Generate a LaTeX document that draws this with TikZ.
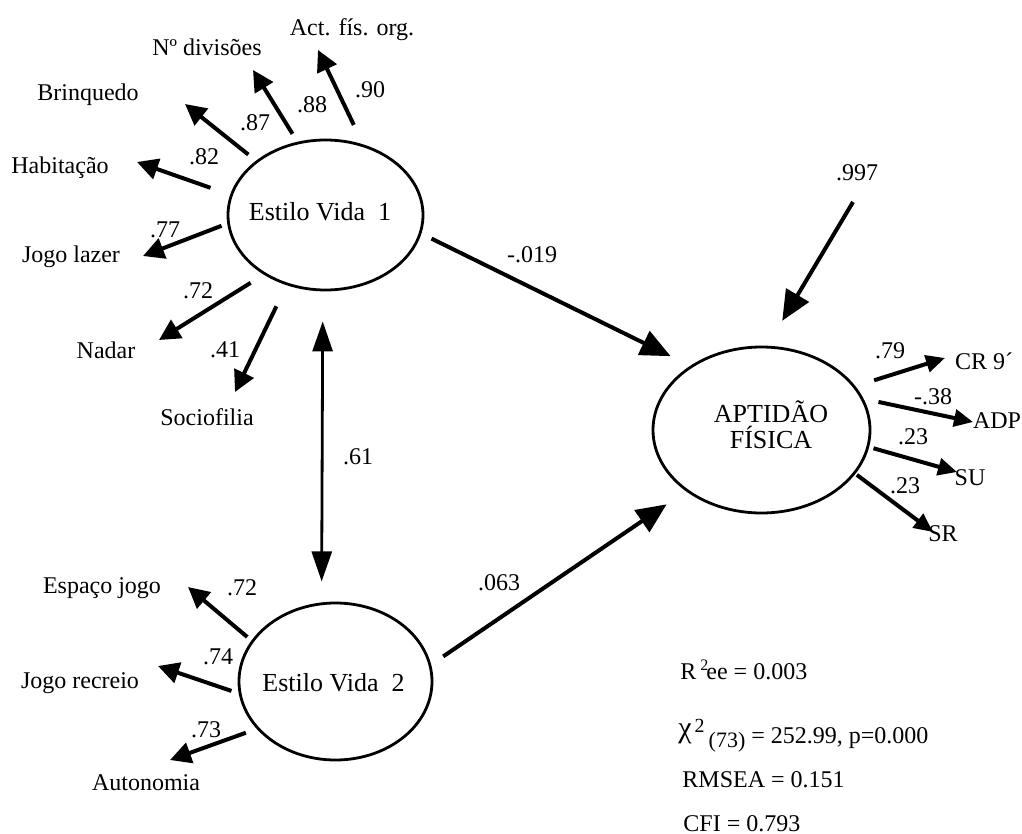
\documentclass[tikz,border=0pt]{standalone}
\usepackage{fontspec}
\setmainfont{Liberation Serif}
\usetikzlibrary{arrows.meta,shapes.geometric}

\begin{document}
\begin{tikzpicture}[x=0.5pt,y=-0.5pt,font=\fontsize{12}{14}\selectfont,
  latent/.style={ellipse,draw,line width=1.4pt,inner sep=0pt},
  big/.style={font=\fontsize{13}{13}\selectfont},
  load/.style={line width=2pt,-{Triangle[length=10.5pt,width=10.5pt]}},
  loadr/.style={line width=2pt,-{Triangle[length=9.5pt,width=8.5pt]}},
  effect/.style={line width=2pt,-{Triangle[length=15pt,width=13pt]}},
  corr/.style={line width=1.4pt,{Triangle[length=15pt,width=10pt]}-{Triangle[length=15pt,width=10pt]}}]
  \path[use as bounding box,fill=white] (0,0) rectangle (1022,834);

  % latent variables
  \node[latent,minimum width=97.5pt,minimum height=75pt,label={[big,xshift=-2.75pt,yshift=1.5pt]center:Estilo Vida\ \ 1}] (ev1) at (325.5,215) {};
  \node[latent,minimum width=96.5pt,minimum height=78.5pt,label={[big,xshift=-1pt,yshift=-0.5pt]center:Estilo Vida\ \ 2}] (ev2) at (335.5,681.5) {};
  \node[latent,minimum width=108.5pt,minimum height=83pt,label={[big,align=center,xshift=4.75pt,yshift=2.5pt]center:APTIDÃO\\FÍSICA}] (apt) at (761.5,430) {};

  % indicators
  \foreach \n/\x/\y/\txt in {actfis/352/30/{Act. fís. org.}, ndiv/207/47/{Nº divisões}, brinq/88/95/Brinquedo, habit/60/168/Habitação, jlazer/71/257/{Jogo lazer}, nadar/106/350/Nadar, socio/207/417/Sociofilia, espaco/102/588/{Espaço jogo}, jrecreio/80/683/{Jogo recreio}, auton/146/783/Autonomia, cr/984/361/{CR 9´}, adp/997/421/ADP, su/970/478/SU, sr/943/534/SR}
    \node (\n) at (\x,\y) {\txt};
  \foreach \n/\x/\y in {actfis/318/50, ndiv/253/70, brinq/185/104, habit/137/162, jlazer/143/256, nadar/159/340, socio/235/392, espaco/188/587, jrecreio/158/666, auton/170/760, cr/945/358, adp/973/422, su/957/472, sr/933/532}
    \coordinate (t-\n) at (\x,\y);

  % loadings
  \foreach \n/\ang/\cut in {actfis/62/10.75, ndiv/111/4.65, brinq/142/4.9, habit/168/10.4, jlazer/185/3.05, nadar/224/7.7, socio/241/11.7}
    \draw[load,shorten <=\cut pt] (ev1.\ang) -- (t-\n);
  \foreach \n/\ang/\cut in {espaco/154/2.75, jrecreio/187/3.8, auton/211/5.75}
    \draw[load,shorten <=\cut pt] (ev2.\ang) -- (t-\n);
  \foreach \n/\ang/\cut in {cr/25/9.8, adp/17/7.6, su/351/2.25, sr/335/0.9}
    \draw[loadr,shorten <=\cut pt] (apt.\ang) -- (t-\n);

  % structural paths
  \coordinate (err) at (853,202);
  \draw[effect,shorten <=5.65pt,shorten >=10.9pt] (ev1.349) -- (apt.138);
  \draw[effect,shorten <=7.3pt,shorten >=11.65pt] (ev2.10) -- (apt.219);
  \draw[effect,shorten >=14.5pt] (err) -- (apt.86);
  \draw[corr,shorten <=15pt,shorten >=10.5pt] (ev1.268) -- (ev2.100);

  % coefficients
  \foreach \n/\x/\y/\v in {actfis/370/90/.90, ndiv/312/105/.88, brinq/255/123/.87, habit/204/157/.82, jlazer/165/230/.77, nadar/198/291/.72, socio/225/350/.41, espaco/242/588/.72, jrecreio/218/657/.74, auton/206/730/.73, cr/890/351/.79, adp/933/397/-.38, su/913/437/.23, sr/905/486/.23, g1/532/255/-.019, g2/499/583/.063, corr/358/457/.61, err/857/173/.997}
    \node (l-\n) at (\x,\y) {\v};

  % fit indices
  \node[anchor=base west,inner sep=0pt] (rsq) at (680,679) {R\,\textsuperscript{2}\kern-1.5pt ee = 0.003};
  \node[anchor=base west,inner sep=0pt] (chisq) at (678,743) {\raisebox{3pt}{\fontsize{15}{15}\selectfont χ}\kern1.5pt\raisebox{5.5pt}{\fontsize{10}{10}\selectfont 2}\kern2pt\raisebox{-2pt}{\fontsize{11}{11}\selectfont (73)} = 252.99, p=0.000};
  \node[anchor=base west,inner sep=0pt] (rmsea) at (682,787) {RMSEA = 0.151};
  \node[anchor=base west,inner sep=0pt] (cfi) at (683,831) {CFI = 0.793};
\end{tikzpicture}
\end{document}
